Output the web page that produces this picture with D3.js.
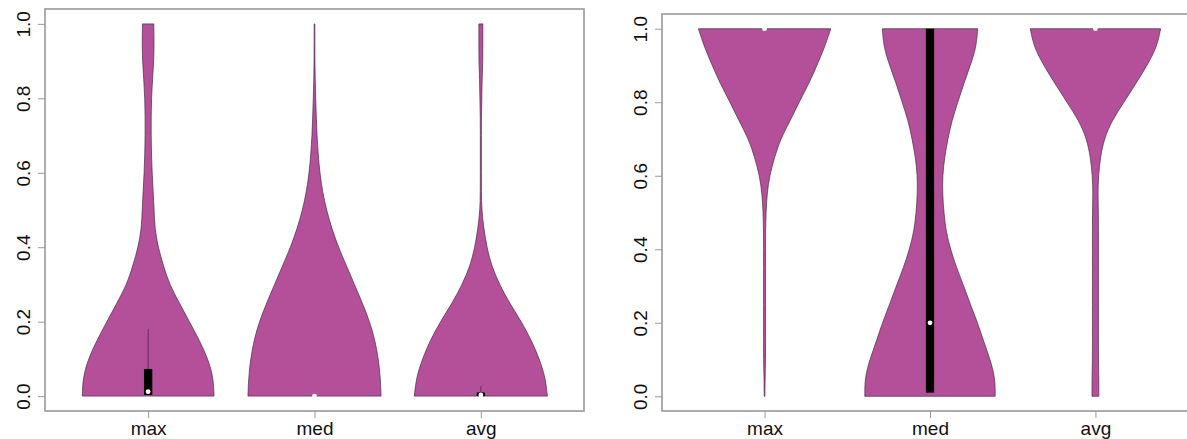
<!DOCTYPE html>
<html>
<head>
<meta charset="utf-8">
<script src="https://cdn.jsdelivr.net/npm/d3@7"></script>
<style>
  body { margin: 0; background: #fff; }
  svg { display: block; font-family: "Liberation Sans", Arial, sans-serif; }
</style>
</head>
<body>
<div id="chart"></div>
<script>

// DATA
var categories = ["max", "med", "avg"];
var yTicks = [0, 0.2, 0.4, 0.6, 0.8, 1.0];
var grid = [0, 0.05, 0.1, 0.15, 0.2, 0.25, 0.3, 0.35, 0.4, 0.45, 0.5,
            0.55, 0.6, 0.65, 0.7, 0.75, 0.8, 0.85, 0.9, 0.95, 1.0];

// left panel densities (relative half-width along grid)
var leftMax = [0.99, 0.98, 0.90, 0.77, 0.62, 0.47, 0.32, 0.23, 0.15, 0.10, 0.09,
               0.075, 0.06, 0.05, 0.045, 0.045, 0.05, 0.065, 0.085, 0.09, 0.085];
var leftMed = [1.0, 0.99, 0.96, 0.91, 0.83, 0.72, 0.6, 0.48, 0.36, 0.26, 0.18,
               0.12, 0.08, 0.055, 0.037, 0.027, 0.018, 0.01, 0.006, 0.005, 0.005];
var leftAvg = [1.0, 0.97, 0.88, 0.76, 0.61, 0.43, 0.28, 0.16, 0.09, 0.045, 0.012,
               0.008, 0.008, 0.008, 0.008, 0.008, 0.015, 0.018, 0.03, 0.03, 0.03];

// right panel densities
var rightMax = [0.005, 0.008, 0.015, 0.015, 0.015, 0.015, 0.015, 0.015, 0.015, 0.015, 0.022,
                0.037, 0.075, 0.15, 0.24, 0.39, 0.52, 0.67, 0.79, 0.91, 1.0];
var rightMed = [0.985, 0.985, 0.91, 0.81, 0.72, 0.61, 0.51, 0.40, 0.31, 0.24, 0.21,
                0.19, 0.19, 0.22, 0.27, 0.33, 0.42, 0.51, 0.61, 0.70, 0.72];
var rightAvg = [0.052, 0.052, 0.045, 0.045, 0.045, 0.045, 0.045, 0.045, 0.045, 0.045, 0.045,
                0.037, 0.045, 0.075, 0.13, 0.25, 0.43, 0.61, 0.78, 0.93, 0.985];

// box stats: [q1, q3, median, upper whisker]
var leftBoxes = [[0.003, 0.073, 0.012, 0.18], [0, 0, 0, 0], [0, 0.01, 0.003, 0.027]];
var rightBoxes = [[1.0, 1.0, 1.0, 1.0], [0.01, 1.0, 0.2, 1.0], [1.0, 1.0, 1.0, 1.0]];

//////////////////////// D3 STUFF

var W = 1187, H = 439;
var fillCol = "#b4509a";

var svg = d3.select("#chart")
  .append("svg")
    .attr("width", W)
    .attr("height", H);

var panels = [
  {left: 45, right: 584, top: 9, bottom: 411, dens: [leftMax, leftMed, leftAvg], boxes: leftBoxes},
  {left: 662, right: 1198, top: 14, bottom: 411, dens: [rightMax, rightMed, rightAvg], boxes: rightBoxes}
];

panels.forEach(function(p) {

  var g = svg.append("g");

  // R style limits, 4% extension
  var x = d3.scaleLinear().domain([0.38, 3.62]).range([p.left, p.right]);
  var y = d3.scaleLinear().domain([-0.04, 1.04]).range([p.bottom, p.top]);
  var halfW = d3.scaleLinear().domain([0, 1]).range([0, 0.4 * (x(2) - x(1))]);

  // violins
  p.dens.forEach(function(dens, i) {
    var cx = x(i + 1);
    var pts = grid.map(function(v, j) { return {v: v, d: dens[j]}; });
    var area = d3.area()
      .y(function(d) { return y(d.v); })
      .x0(function(d) { return cx - halfW(d.d); })
      .x1(function(d) { return cx + halfW(d.d); })
      .curve(d3.curveBasis);
    g.append("path")
      .attr("d", area(pts))
      .attr("fill", fillCol)
      .attr("stroke", "#4a2a48")
      .attr("stroke-width", 0.7);
  });

  // boxes + whiskers + median
  var bw = x(1.05) - x(1);
  p.boxes.forEach(function(b, i) {
    var cx = x(i + 1);
    if (b[3] > b[1]) {
      g.append("line")
        .attr("x1", cx).attr("x2", cx)
        .attr("y1", y(b[1])).attr("y2", y(b[3]))
        .attr("stroke", "#6a2a64")
        .attr("stroke-width", 1);
    }
    if (b[1] > b[0]) {
      g.append("rect")
        .attr("x", cx - bw / 2)
        .attr("y", y(b[1]))
        .attr("width", bw)
        .attr("height", y(b[0]) - y(b[1]))
        .attr("fill", "#000");
    }
    g.append("circle")
      .attr("cx", cx)
      .attr("cy", y(b[2]))
      .attr("r", 2.4)
      .attr("fill", "#fff");
  });

  // frame
  g.append("rect")
    .attr("x", p.left)
    .attr("y", p.top)
    .attr("width", p.right - p.left)
    .attr("height", p.bottom - p.top)
    .attr("fill", "none")
    .attr("stroke", "#999")
    .attr("stroke-width", 1.6);

  // y axis
  var yAxis = g.append("g")
    .attr("transform", "translate(" + p.left + ",0)")
    .call(d3.axisLeft(y).tickValues(yTicks).tickSize(7).tickFormat(d3.format(".1f")));
  yAxis.select(".domain").remove();
  yAxis.selectAll(".tick line").attr("stroke", "#999");
  yAxis.selectAll(".tick text")
    .attr("x", 0).attr("dy", 0)
    .attr("transform", "translate(-22,0) rotate(-90)")
    .attr("text-anchor", "middle")
    .attr("dominant-baseline", "central")
    .style("font-size", "19px")
    .style("font-family", "Liberation Sans, Arial, sans-serif")
    .attr("fill", "#111");

  // x axis
  var xAxis = g.append("g")
    .attr("transform", "translate(0," + p.bottom + ")")
    .call(d3.axisBottom(x).tickValues([1, 2, 3]).tickSize(7)
      .tickFormat(function(d) { return categories[d - 1]; }));
  xAxis.select(".domain").remove();
  xAxis.selectAll(".tick line").attr("stroke", "#999");
  xAxis.selectAll(".tick text")
    .attr("y", 17).attr("dy", 0)
    .attr("dominant-baseline", "central")
    .style("font-size", "19px")
    .style("font-family", "Liberation Sans, Arial, sans-serif")
    .attr("fill", "#111");
});

</script>
</body>
</html>
